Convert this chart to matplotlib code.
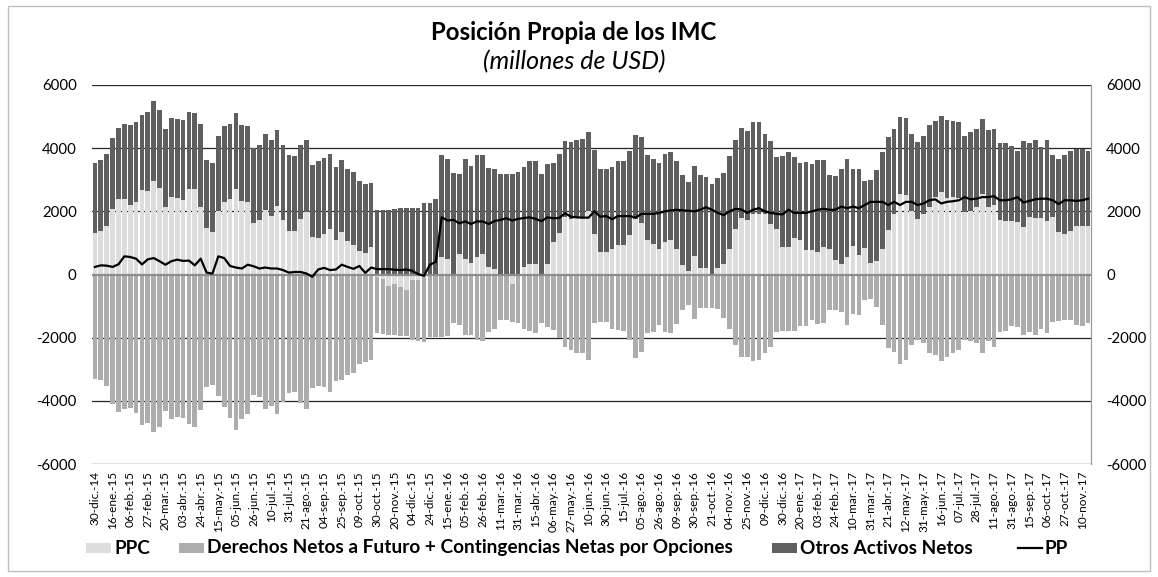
import numpy as np
import matplotlib
matplotlib.use("Agg")
from matplotlib import pyplot as plt
from matplotlib.patches import Rectangle
from matplotlib.lines import Line2D

plt.rcParams['font.family'] = ['Lato', 'DejaVu Sans']

# weekly categories (30-dic-14 .. 17-nov-17), one tick label every 3 categories
TICK_LABELS = ["30-dic.-14", "16-ene.-15", "06-feb.-15", "27-feb.-15", "20-mar.-15", "03-abr.-15",
               "24-abr.-15", "15-may.-15", "05-jun.-15", "26-jun.-15", "10-jul.-15", "31-jul.-15",
               "21-ago.-15", "04-sep.-15", "25-sep.-15", "09-oct.-15", "30-oct.-15", "20-nov.-15",
               "04-dic.-15", "24-dic.-15", "15-ene.-16", "05-feb.-16", "26-feb.-16", "11-mar.-16",
               "31-mar.-16", "15-abr.-16", "06-may.-16", "27-may.-16", "10-jun.-16", "30-jun.-16",
               "15-jul.-16", "05-ago.-16", "26-ago.-16", "09-sep.-16", "30-sep.-16", "21-oct.-16",
               "04-nov.-16", "25-nov.-16", "09-dic.-16", "30-dic.-16", "20-ene.-17", "03-feb.-17",
               "24-feb.-17", "10-mar.-17", "31-mar.-17", "21-abr.-17", "12-may.-17", "31-may.-17",
               "16-jun.-17", "07-jul.-17", "28-jul.-17", "11-ago.-17", "31-ago.-17", "15-sep.-17",
               "06-oct.-17", "27-oct.-17", "10-nov.-17"]

# PPC (millones de USD)
ppc = [1310, 1390, 1550, 2070, 2390, 2390, 2210, 2300, 2670, 2630, 2960, 2730, 2130, 2460, 2420, 2360,
       2720, 2700, 2150, 1470, 1340, 2000, 2300, 2390, 2720, 2330, 2300, 1620, 1740, 2050, 1860, 2180,
       1710, 1370, 1370, 1760, 1970, 1180, 1150, 1290, 1440, 1100, 1340, 1060, 940, 730, 690, 870,
       -80, -150, -350, -290, -400, -500, -170, -170, -60, 0, 0,
       555, 500, 0, 640, 500, 370, 555, 660, 240, 160, 0, 0, -300, 0, 240, 345, 345, 0, 345, 1030,
       1310, 1810, 1760, 1810,
       1810, 2020, 1290, 710, 710, 820, 920, 920, 1240, 1760, 1620, 1100, 970, 820, 1030, 1080, 820,
       310, 115, 575, 210, 190, 0, 190, 345, 820, 1440, 1790, 1710, 1920, 1920, 1920, 1600, 1440, 870,
       870, 1160, 1080, 790, 790, 710, 870, 820, 450, 345, 555, 900, 610, 850, 370, 430, 820, 1410,
       1920, 2540, 2520, 2020, 1760, 1920, 2130, 2440, 2600, 2420, 2440, 2420, 1970, 2020, 2130, 2540,
       2150, 2210, 1730, 1690, 1690, 1650, 1500, 1830, 1780, 1790, 1690, 1810, 1360, 1290, 1390, 1550,
       1550, 1520]

# Derechos Netos a Futuro + Contingencias Netas por Opciones
derechos = [-3310, -3350, -3540, -4110, -4360, -4250, -4220, -4400, -4750, -4710, -5000, -4830, -4320,
            -4580, -4510, -4530, -4740, -4820, -4300, -3560, -3490, -3850, -4190, -4550, -4930, -4580,
            -4410, -3800, -3880, -4270, -4150, -4430, -4040, -3750, -3720, -4060, -4270, -3590, -3520,
            -3570, -3730, -3360, -3330, -3170, -3120, -2830, -2760, -2720,
            -1780, -1730, -1550, -1630, -1550, -1460, -1900, -1950, -2090, -1970, -1970,
            -1970, -1950, -1550, -1600, -1920, -1920, -2070, -2100, -1810, -1710, -1440, -1440, -1200,
            -1550, -1710, -1790, -1840, -1530, -1650, -1750, -2020, -2300, -2390, -2490,
            -2490, -2720, -1530, -1500, -1500, -1740, -1760, -1780, -2070, -2650, -2440, -1860, -1810,
            -1600, -1810, -1840, -1570, -1130, -970, -1420, -1050, -1050, -1050, -1080, -1370, -1710,
            -2230, -2600, -2600, -2750, -2720, -2490, -2280, -1810, -1790, -1790, -1780, -1630, -1630,
            -1440, -1580, -1550, -1130, -1110, -1180, -1600, -1240, -1290, -820, -760, -1030, -1600,
            -2330, -2440, -2830, -2700, -2230, -2070, -2160, -2470, -2540, -2750, -2600, -2490, -2390,
            -2070, -2120, -2180, -2490, -2090, -2310, -1810, -1790, -1630, -1650, -1920, -1810, -1920,
            -1710, -1860, -1500, -1480, -1440, -1440, -1600, -1630, -1550]

# Otros Activos Netos
otros = [2230, 2230, 2250, 2250, 2250, 2380, 2510, 2530, 2390, 2510, 2540, 2470, 2480, 2490, 2510, 2520,
         2410, 2400, 2610, 2160, 2180, 2400, 2390, 2390, 2390, 2390, 2390, 2390, 2370, 2400, 2400, 2410,
         2380, 2400, 2380, 2330, 2300, 2290, 2440, 2410, 2380, 2310, 2300, 2290, 2320, 2230, 2170, 2040,
         2040, 2050, 2050, 2060, 2100, 2100, 2100, 2090, 2260, 2260, 2380,
         3215, 3170, 3220, 2530, 3170, 3080, 3215, 3110, 3140, 3190, 3170, 3170, 3170, 3260, 3170, 3245,
         3245, 3170, 3145, 2510, 2490, 2410, 2430, 2440,
         2480, 2480, 2650, 2640, 2640, 2590, 2670, 2670, 2660, 2650, 2730, 2680, 2700, 2720, 2770, 2800,
         2770, 2830, 2825, 2875, 2930, 2910, 2880, 2880, 2875, 2920, 2830, 2850, 2820, 2900, 2910, 2540,
         2620, 2290, 2880, 3010, 2550, 2440, 2780, 2720, 2930, 2740, 2320, 2670, 2985, 3115, 2450, 2740,
         2110, 2620, 2870, 3060, 2940, 2700, 2440, 2430, 2430, 2440, 2480, 2610, 2430, 2420, 2460, 2410,
         2400, 2410, 2480, 2480, 2380, 2440, 2400, 2420, 2460, 2370, 2250, 2740, 2340, 2490, 2250, 2560,
         1970, 2310, 2490, 2510, 2430, 2430, 2380]

# PP (posicion propia)
pp = [240, 290, 280, 240, 320, 575, 555, 500, 320, 480, 520, 420, 310, 420, 470, 430, 440, 290, 500, 60,
      30, 575, 520, 270, 220, 190, 310, 260, 190, 220, 190, 190, 140, 60, 80, 80, 30, -70, 160, 210,
      140, 160, 310, 240, 180, 270, 50, 220,
      170, 170, 170, 150, 140, 160, 115, 10, -40, 310, 400,
      1810, 1710, 1730, 1620, 1680, 1600, 1680, 1680, 1600, 1690, 1730, 1780, 1710, 1760, 1790, 1810,
      1760, 1690, 1810, 1780, 1790, 1940, 1830, 1810,
      1800, 1800, 2000, 1830, 1850, 1750, 1850, 1850, 1850, 1800, 1920, 1920, 1920, 1950, 2000, 2030,
      2050, 2030, 2020, 2000, 2050, 2130, 2050, 1950, 1880, 2000, 2080, 2060, 1950, 2050, 2100, 2000,
      1950, 1920, 1900, 2050, 1950, 1950, 1950, 2000, 2050, 2080, 2050, 2050, 2150, 2100, 2150, 2100,
      2200, 2300, 2300, 2300, 2200, 2300, 2200, 2300, 2300, 2200, 2250, 2350, 2380, 2250, 2300, 2320,
      2350, 2450, 2380, 2400, 2450, 2450, 2480, 2350, 2350, 2380, 2450, 2280, 2330, 2380, 2400, 2400,
      2350, 2230, 2350, 2350, 2330, 2350, 2400]

C_PPC = "#dddddd"
C_DER = "#adadad"
C_OTROS = "#5f5f5f"

W, H = 1158, 577

ppc_a = np.array(ppc, dtype=float)
der_a = np.array(derechos, dtype=float)
otr_a = np.array(otros, dtype=float)
x = np.arange(len(ppc_a))

# excel-like stacking: positives stack upward, negatives stack downward
pos_base = np.where(ppc_a > 0, ppc_a, 0)
neg_base = np.where(ppc_a < 0, ppc_a, 0)

fig = plt.figure(figsize=(W / 100, H / 100), dpi=100)
ax = fig.add_axes([92 / W, 1 - 464 / H, 999 / W, 379 / H])

for yv in [-6000, -4000, -2000, 2000, 4000, 6000]:
    ax.axhline(yv, color="#262626", linewidth=0.9, zorder=0)

w = 0.8
ax.bar(x, ppc_a, width=w, color=C_PPC, zorder=2)
ax.bar(x, der_a, width=w, bottom=neg_base, color=C_DER, zorder=2)
ax.bar(x, otr_a, width=w, bottom=pos_base, color=C_OTROS, zorder=2)
ax.axhline(0, color="#8c8c8c", linewidth=1.6, zorder=3)
ax.plot(x, pp, color="black", linewidth=1.6, zorder=4)

ax.set_xlim(-0.5, len(x) - 0.5)
ax.set_ylim(-6000, 6000)
yt = np.arange(-6000, 6001, 2000)
ax.set_yticks(yt)
ax.set_yticklabels([str(v) for v in yt], fontsize=10.8)
ax.tick_params(axis="y", length=0, pad=11)
ax.set_xticks(np.arange(0, len(x), 3)[:len(TICK_LABELS)])
ax.set_xticklabels(TICK_LABELS, rotation=90, fontsize=8.5)
ax.tick_params(axis="x", length=0, pad=5)
for s in ["top", "left", "bottom"]:
    ax.spines[s].set_visible(False)
ax.spines["right"].set_color("#9a9a9a")

ax2 = ax.twinx()
ax2.set_ylim(-6000, 6000)
ax2.set_yticks(yt)
ax2.set_yticklabels([str(v) for v in yt], fontsize=10.8)
ax2.tick_params(axis="y", length=0, pad=11)
for s in ["top", "left", "bottom"]:
    ax2.spines[s].set_visible(False)
ax2.spines["right"].set_color("#9a9a9a")

fig.text(574 / W, 1 - 33 / H, "Posición Propia de los IMC", ha="center", va="center",
         fontsize=17.3, fontweight="bold")
fig.text(574 / W, 1 - 62 / H, "(millones de USD)", ha="center", va="center",
         fontsize=18, fontstyle="italic")

# legend drawn by hand (excel places it left of centre)
ly = 1 - 548 / H
ph = 10 / H
for x0, col, txt in [(86, C_PPC, "PPC"),
                     (179, C_DER, "Derechos Netos a Futuro + Contingencias Netas por Opciones"),
                     (772, C_OTROS, "Otros Activos Netos")]:
    fig.patches.append(Rectangle((x0 / W, ly - ph / 2), 25 / W, ph, transform=fig.transFigure,
                                 facecolor=col, edgecolor="none"))
    fig.text((x0 + 28) / W, ly, txt, ha="left", va="center", fontsize=13.7, fontweight="bold")
fig.lines.append(Line2D([1018 / W, 1042 / W], [ly, ly], transform=fig.transFigure,
                        color="black", linewidth=1.6))
fig.text(1044 / W, ly, "PP", ha="left", va="center", fontsize=13.7, fontweight="bold")

# chart border
fig.patches.append(Rectangle((8 / W, 6 / H), 1142 / W, 565 / H, transform=fig.transFigure,
                             fill=False, edgecolor="#bfbfbf", linewidth=1))

fig.savefig("out.png", dpi=100)
